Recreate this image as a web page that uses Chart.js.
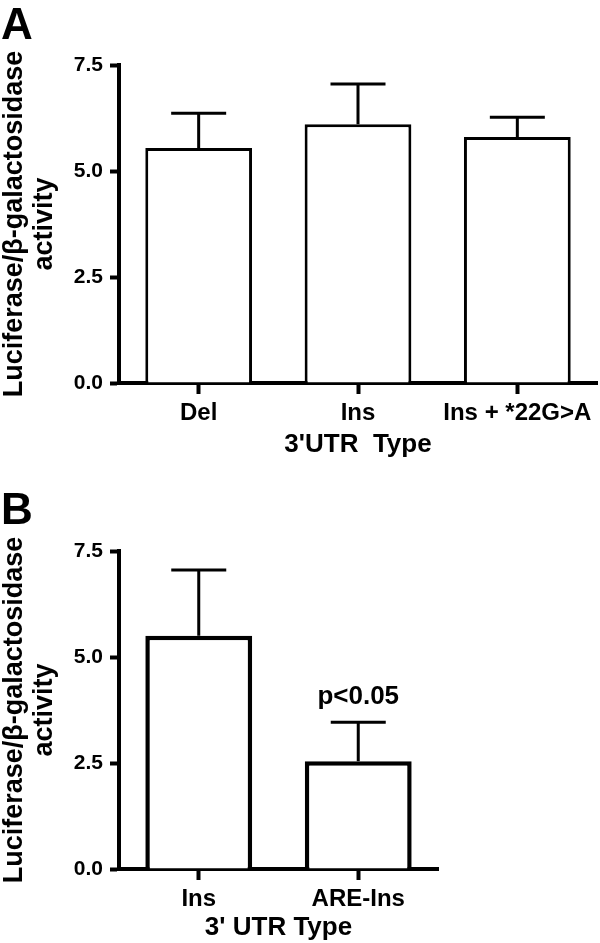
<!DOCTYPE html>
<html>
<head>
<meta charset="utf-8">
<script src="https://cdn.jsdelivr.net/npm/chart.js@4.4.0/dist/chart.umd.min.js"></script>
<style>
  body { margin: 0; background: #fff; }
  .panel { position: absolute; left: 0; }
</style>
</head>
<body>
<div class="panel" style="top:0"><canvas id="chartA" width="600" height="470"></canvas></div>
<div class="panel" style="top:470px"><canvas id="chartB" width="600" height="473"></canvas></div>
<script>
// panel A
const labelsA = ['Del', 'Ins', 'Ins + *22G>A'];
const meansA = [5.54, 6.10, 5.80];
const errA = [0.82, 0.95, 0.47];      // upper error bar only

// panel B
const labelsB = ['Ins', 'ARE-Ins'];
const meansB = [5.50, 2.54];
const errB = [1.55, 0.92];
const notesB = ['', 'p<0.05'];

const yTicks = [0, 2.5, 5, 7.5];
const yTitle = ['Luciferase/\u03b2-galactosidase', 'activity'];

const FONT = '"Liberation Sans", Arial, Helvetica, sans-serif';
Chart.defaults.font.family = FONT;
Chart.defaults.color = '#000';

// draws the SEM whiskers (+ optional text above them)
function errorBars(errors, notes, lineW) {
    return {
        id: 'errorBars',
        afterDatasetsDraw(chart) {
            const ctx = chart.ctx;
            const y = chart.scales.y;
            const ds = chart.data.datasets[0];
            ctx.save();
            ctx.strokeStyle = '#000';
            ctx.lineWidth = lineW;
            chart.getDatasetMeta(0).data.forEach((bar, i) => {
                const top = y.getPixelForValue(ds.data[i] + errors[i]);
                ctx.beginPath();
                ctx.moveTo(bar.x, bar.y);
                ctx.lineTo(bar.x, top);
                ctx.moveTo(bar.x - 27.5, top);
                ctx.lineTo(bar.x + 27.5, top);
                ctx.stroke();
                if (notes && notes[i]) {
                    ctx.fillStyle = '#000';
                    ctx.font = 'bold 26px ' + FONT;
                    ctx.textAlign = 'center';
                    ctx.textBaseline = 'alphabetic';
                    ctx.fillText(notes[i], bar.x, top - 18);
                }
            });
            ctx.restore();
        }
    };
}

function panelLetter(letter, baseline) {
    return {
        id: 'panelLetter',
        afterDraw(chart) {
            const ctx = chart.ctx;
            ctx.save();
            ctx.fillStyle = '#000';
            ctx.font = 'bold 44px ' + FONT;
            ctx.textAlign = 'left';
            ctx.textBaseline = 'alphabetic';
            ctx.fillText(letter, 1, baseline);
            ctx.restore();
        }
    };
}

function makeOptions(padding, xHeight, xTitle, xTitlePad) {
    return {
        responsive: false,
        animation: false,
        layout: { padding: padding },
        plugins: { legend: { display: false }, tooltip: { enabled: false } },
        scales: {
            x: {
                grid: { drawOnChartArea: false, offset: false, tickLength: 11, tickWidth: 4, tickColor: '#000' },
                border: { display: true, width: 4, color: '#000' },
                ticks: { font: { size: 24, weight: 'bold' }, padding: 5, color: '#000' },
                title: { display: true, text: xTitle, font: { size: 26, weight: 'bold' }, padding: { top: 4, bottom: xTitlePad }, color: '#000' },
                afterFit(scale) { scale.height = xHeight; }
            },
            y: {
                min: 0,
                max: 7.5,
                afterBuildTicks(scale) { scale.ticks = yTicks.map(v => ({ value: v })); },
                grid: { drawOnChartArea: false, tickLength: 9, tickWidth: 4, tickColor: '#000' },
                border: { display: true, width: 4, color: '#000' },
                ticks: {
                    font: { size: 21, weight: 'bold' },
                    padding: 7,
                    color: '#000',
                    callback: v => Number(v).toFixed(1)
                },
                title: { display: true, text: yTitle, font: { size: 27, weight: 'bold', lineHeight: 1.11 }, padding: { top: 0, bottom: 0 }, color: '#000' },
                afterFit(scale) { scale.width = 119; }
            }
        }
    };
}

const chartA = new Chart(document.getElementById('chartA'), {
    type: 'bar',
    plugins: [errorBars(errA, null, 3), panelLetter('A', 39)],
    data: {
        labels: labelsA,
        datasets: [{
            data: meansA,
            backgroundColor: '#fff',
            borderColor: '#000',
            borderWidth: 3,
            categoryPercentage: 1,
            barPercentage: 0.67
        }]
    },
    options: makeOptions({ left: 0, top: 65, right: 3, bottom: 7 }, 80, "3'UTR  Type", 3)
});

const chartB = new Chart(document.getElementById('chartB'), {
    type: 'bar',
    plugins: [errorBars(errB, notesB, 3), panelLetter('B', 54)],
    data: {
        labels: labelsB,
        datasets: [{
            data: meansB,
            backgroundColor: '#fff',
            borderColor: '#000',
            borderWidth: 4.5,
            categoryPercentage: 1,
            barPercentage: 0.67
        }]
    },
    options: makeOptions({ left: 0, top: 81, right: 162, bottom: 0 }, 74, "3' UTR Type", 0)
});
</script>
</body>
</html>
